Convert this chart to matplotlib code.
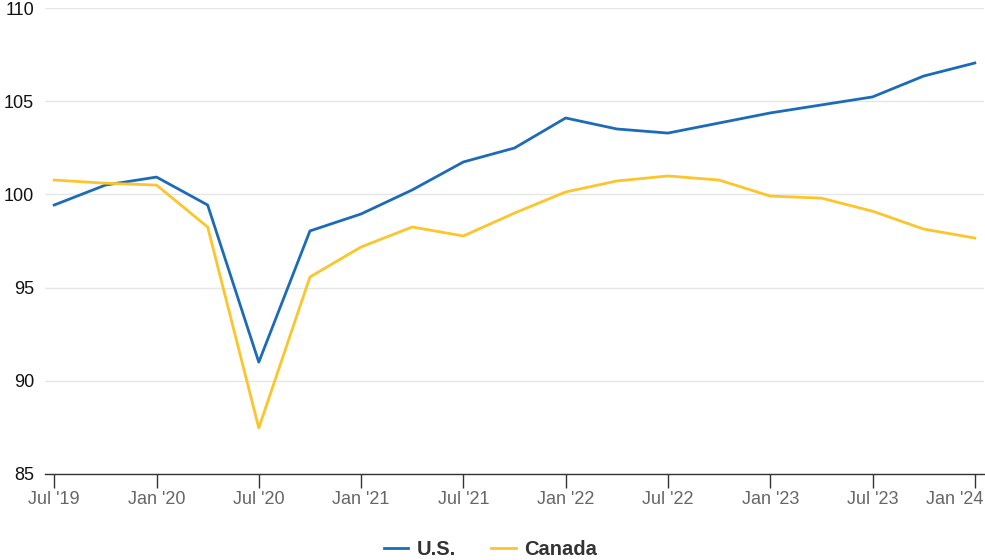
import matplotlib.pyplot as plt
import matplotlib.transforms as mtransforms
import numpy as np

plt.rcParams['font.family'] = ['Liberation Sans', 'DejaVu Sans']

# quarterly, Jul '19 .. Jan '24
quarters = ["Jul '19", "Oct '19", "Jan '20", "Apr '20", "Jul '20", "Oct '20",
            "Jan '21", "Apr '21", "Jul '21", "Oct '21", "Jan '22", "Apr '22",
            "Jul '22", "Oct '22", "Jan '23", "Apr '23", "Jul '23", "Oct '23",
            "Jan '24"]
us = [99.43, 100.5, 100.93, 99.43, 91.0, 98.04, 98.95, 100.24, 101.74, 102.49,
      104.1, 103.51, 103.29, 103.83, 104.37, 104.8, 105.23, 106.35, 107.05]
canada = [100.77, 100.6, 100.5, 98.25, 87.47, 95.57, 97.18, 98.25, 97.77, 99.0,
          100.13, 100.72, 100.99, 100.77, 99.91, 99.8, 99.1, 98.14, 97.66]
y_ticks = [85, 90, 95, 100, 105, 110]

x = np.arange(len(quarters))

fig = plt.figure(figsize=(9.85, 5.6), dpi=100)
ax = fig.add_axes([0.0457, 0.1536, 0.9533, 0.8321])

ax.plot(x, us, color='#1c6bb8', lw=2.0, label='U.S.')
ax.plot(x, canada, color='#fcc52c', lw=2.0, label='Canada')

ax.set_xlim(-0.18, len(quarters) - 1 + 0.18)
ax.set_ylim(85, 110)
ax.set_yticks(y_ticks)
ax.set_xticks(x[::2])
ax.set_xticklabels(quarters[::2])

ax.grid(axis='y', color='#e6e6e6', lw=1)
ax.set_axisbelow(True)
for s in ['top', 'right', 'left']:
    ax.spines[s].set_visible(False)
ax.spines['bottom'].set_color('#333333')
ax.spines['bottom'].set_linewidth(1)

ax.tick_params(axis='y', length=0, labelsize=13, labelcolor='#111111', pad=8)
ax.tick_params(axis='x', length=10, width=1, color='#333333', labelsize=13,
               labelcolor='#666666', pad=2)

# last label pushed inside the figure, like the original
last = ax.get_xticklabels()[-1]
last.set_horizontalalignment('right')
last.set_transform(last.get_transform() +
                   mtransforms.ScaledTranslation(9 / 100, 0, fig.dpi_scale_trans))

leg = fig.legend(loc='lower center', bbox_to_anchor=(0.498, -0.03), ncol=2,
                 frameon=False, handlelength=1.2, handletextpad=0.45,
                 columnspacing=1.75, prop={'weight': 'bold', 'size': 14.5})
for t in leg.get_texts():
    t.set_color('#333333')

fig.savefig('out.png', dpi=100)
